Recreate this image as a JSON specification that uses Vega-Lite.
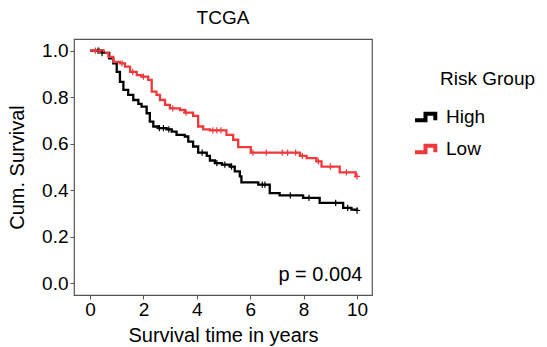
{
  "$schema": "https://vega.github.io/schema/vega-lite/v6.json",
  "width": 298,
  "height": 256,
  "autosize": {"type": "none"},
  "padding": {"left": 74, "top": 39, "right": 175, "bottom": 52},
  "title": {"text": "TCGA", "fontSize": 19, "font": "Liberation Sans", "fontWeight": "normal", "color": "#000000", "offset": 11},
  "config": {
    "font": "Liberation Sans",
    "view": {"stroke": "#555555", "strokeWidth": 1.2},
    "axis": {"domain": false, "grid": false, "tickColor": "#555555", "tickSize": 4, "labelFontSize": 19, "labelColor": "#000000", "titleFontSize": 20, "titleFontWeight": "normal", "titleColor": "#000000", "labelFont": "Liberation Sans", "titleFont": "Liberation Sans"}
  },
  "datasets": {
    "km": [
      {"group": "High", "time": 0, "surv": 1.0},
      {"group": "High", "time": 0.5, "surv": 0.99},
      {"group": "High", "time": 0.72, "surv": 0.967},
      {"group": "High", "time": 0.87, "surv": 0.945},
      {"group": "High", "time": 1.0, "surv": 0.909},
      {"group": "High", "time": 1.12, "surv": 0.866},
      {"group": "High", "time": 1.25, "surv": 0.831},
      {"group": "High", "time": 1.43, "surv": 0.81},
      {"group": "High", "time": 1.62, "surv": 0.788},
      {"group": "High", "time": 1.81, "surv": 0.771},
      {"group": "High", "time": 1.93, "surv": 0.759},
      {"group": "High", "time": 2.12, "surv": 0.731},
      {"group": "High", "time": 2.24, "surv": 0.695},
      {"group": "High", "time": 2.37, "surv": 0.674},
      {"group": "High", "time": 2.56, "surv": 0.667},
      {"group": "High", "time": 2.87, "surv": 0.662},
      {"group": "High", "time": 3.06, "surv": 0.652},
      {"group": "High", "time": 3.24, "surv": 0.638},
      {"group": "High", "time": 3.55, "surv": 0.631},
      {"group": "High", "time": 3.68, "surv": 0.609},
      {"group": "High", "time": 3.86, "surv": 0.588},
      {"group": "High", "time": 4.05, "surv": 0.562},
      {"group": "High", "time": 4.37, "surv": 0.548},
      {"group": "High", "time": 4.49, "surv": 0.528},
      {"group": "High", "time": 4.68, "surv": 0.517},
      {"group": "High", "time": 4.94, "surv": 0.51},
      {"group": "High", "time": 5.24, "surv": 0.502},
      {"group": "High", "time": 5.42, "surv": 0.481},
      {"group": "High", "time": 5.61, "surv": 0.46},
      {"group": "High", "time": 5.67, "surv": 0.434},
      {"group": "High", "time": 6.3, "surv": 0.424},
      {"group": "High", "time": 6.73, "surv": 0.388},
      {"group": "High", "time": 7.1, "surv": 0.378},
      {"group": "High", "time": 7.98, "surv": 0.367},
      {"group": "High", "time": 8.6, "surv": 0.346},
      {"group": "High", "time": 9.48, "surv": 0.324},
      {"group": "High", "time": 9.79, "surv": 0.317},
      {"group": "High", "time": 10.0, "surv": 0.313},
      {"group": "Low", "time": 0, "surv": 1.0},
      {"group": "Low", "time": 0.5, "surv": 0.99},
      {"group": "Low", "time": 0.69, "surv": 0.973},
      {"group": "Low", "time": 0.87, "surv": 0.952},
      {"group": "Low", "time": 1.12, "surv": 0.945},
      {"group": "Low", "time": 1.31, "surv": 0.931},
      {"group": "Low", "time": 1.5, "surv": 0.909},
      {"group": "Low", "time": 1.75, "surv": 0.895},
      {"group": "Low", "time": 1.93, "surv": 0.888},
      {"group": "Low", "time": 2.18, "surv": 0.874},
      {"group": "Low", "time": 2.31, "surv": 0.824},
      {"group": "Low", "time": 2.49, "surv": 0.81},
      {"group": "Low", "time": 2.62, "surv": 0.788},
      {"group": "Low", "time": 2.81, "surv": 0.767},
      {"group": "Low", "time": 2.99, "surv": 0.752},
      {"group": "Low", "time": 3.37, "surv": 0.745},
      {"group": "Low", "time": 3.55, "surv": 0.734},
      {"group": "Low", "time": 3.86, "surv": 0.72},
      {"group": "Low", "time": 4.05, "surv": 0.674},
      {"group": "Low", "time": 4.24, "surv": 0.662},
      {"group": "Low", "time": 4.49, "surv": 0.657},
      {"group": "Low", "time": 5.11, "surv": 0.638},
      {"group": "Low", "time": 5.36, "surv": 0.617},
      {"group": "Low", "time": 5.55, "surv": 0.585},
      {"group": "Low", "time": 6.02, "surv": 0.562},
      {"group": "Low", "time": 7.86, "surv": 0.548},
      {"group": "Low", "time": 8.11, "surv": 0.538},
      {"group": "Low", "time": 8.48, "surv": 0.524},
      {"group": "Low", "time": 8.67, "surv": 0.502},
      {"group": "Low", "time": 9.35, "surv": 0.477},
      {"group": "Low", "time": 9.95, "surv": 0.46},
      {"group": "Low", "time": 10.0, "surv": 0.46}
    ],
    "cens": [
      {"group": "High", "time": 0.3, "surv": 1.0},
      {"group": "High", "time": 0.45, "surv": 0.99},
      {"group": "High", "time": 2.6, "surv": 0.667},
      {"group": "High", "time": 2.75, "surv": 0.667},
      {"group": "High", "time": 2.95, "surv": 0.662},
      {"group": "High", "time": 4.2, "surv": 0.562},
      {"group": "High", "time": 4.75, "surv": 0.517},
      {"group": "High", "time": 5.05, "surv": 0.51},
      {"group": "High", "time": 5.3, "surv": 0.502},
      {"group": "High", "time": 6.45, "surv": 0.424},
      {"group": "High", "time": 6.55, "surv": 0.424},
      {"group": "High", "time": 7.5, "surv": 0.378},
      {"group": "High", "time": 8.2, "surv": 0.367},
      {"group": "High", "time": 9.2, "surv": 0.346},
      {"group": "High", "time": 9.65, "surv": 0.324},
      {"group": "High", "time": 10.0, "surv": 0.313},
      {"group": "Low", "time": 0.2, "surv": 1.0},
      {"group": "Low", "time": 0.35, "surv": 1.0},
      {"group": "Low", "time": 1.2, "surv": 0.945},
      {"group": "Low", "time": 1.6, "surv": 0.909},
      {"group": "Low", "time": 2.0, "surv": 0.888},
      {"group": "Low", "time": 3.1, "surv": 0.752},
      {"group": "Low", "time": 3.6, "surv": 0.734},
      {"group": "Low", "time": 4.6, "surv": 0.657},
      {"group": "Low", "time": 4.75, "surv": 0.657},
      {"group": "Low", "time": 4.9, "surv": 0.657},
      {"group": "Low", "time": 6.1, "surv": 0.562},
      {"group": "Low", "time": 6.6, "surv": 0.562},
      {"group": "Low", "time": 7.2, "surv": 0.562},
      {"group": "Low", "time": 7.4, "surv": 0.562},
      {"group": "Low", "time": 7.7, "surv": 0.562},
      {"group": "Low", "time": 7.95, "surv": 0.548},
      {"group": "Low", "time": 8.55, "surv": 0.524},
      {"group": "Low", "time": 9.0, "surv": 0.502},
      {"group": "Low", "time": 9.6, "surv": 0.477},
      {"group": "Low", "time": 10.0, "surv": 0.46}
    ],
    "ptext": [{"time": 10.2, "surv": 0.035, "label": "p = 0.004"}]
  },
  "layer": [
    {
      "data": {"name": "km"},
      "mark": {"type": "line", "interpolate": "step-after", "strokeWidth": 2.3},
      "encoding": {
        "x": {"field": "time", "type": "quantitative", "scale": {"domain": [-0.6, 10.56], "nice": false, "zero": false},
              "axis": {"values": [0, 2, 4, 6, 8, 10], "title": "Survival time in years", "labelPadding": 1, "titlePadding": 6}},
        "y": {"field": "surv", "type": "quantitative", "scale": {"domain": [-0.05, 1.05], "nice": false, "zero": false},
              "axis": {"values": [0, 0.2, 0.4, 0.6, 0.8, 1.0], "format": ".1f", "title": "Cum. Survival", "labelPadding": 2, "titlePadding": 14}},
        "color": {"field": "group", "type": "nominal", "scale": {"domain": ["High", "Low"], "range": ["#000000", "#F0393B"]},
                  "legend": {"orient": "none", "legendX": 366, "legendY": 31, "padding": 0, "title": "Risk Group", "titleFontSize": 19, "titleFontWeight": "normal", "titleColor": "#000000", "titlePadding": 12, "labelFontSize": 19, "labelColor": "#000000", "symbolType": "M-1,0.23H-0.25V-0.23H0.45V0.23", "symbolSize": 784, "symbolStrokeWidth": 4, "symbolFillColor": "transparent", "symbolOffset": -27, "labelOffset": 1, "rowPadding": 4}}
      }
    },
    {
      "data": {"name": "cens"},
      "mark": {"type": "point", "shape": "M-1,0H1M0,-1V1", "filled": false, "size": 40, "strokeWidth": 1.2, "opacity": 1},
      "encoding": {
        "x": {"field": "time", "type": "quantitative"},
        "y": {"field": "surv", "type": "quantitative"},
        "color": {"field": "group", "type": "nominal", "legend": null}
      }
    },
    {
      "data": {"name": "ptext"},
      "mark": {"type": "text", "align": "right", "baseline": "middle", "fontSize": 20, "color": "#000000"},
      "encoding": {
        "x": {"field": "time", "type": "quantitative"},
        "y": {"field": "surv", "type": "quantitative"},
        "text": {"field": "label"}
      }
    }
  ]
}
